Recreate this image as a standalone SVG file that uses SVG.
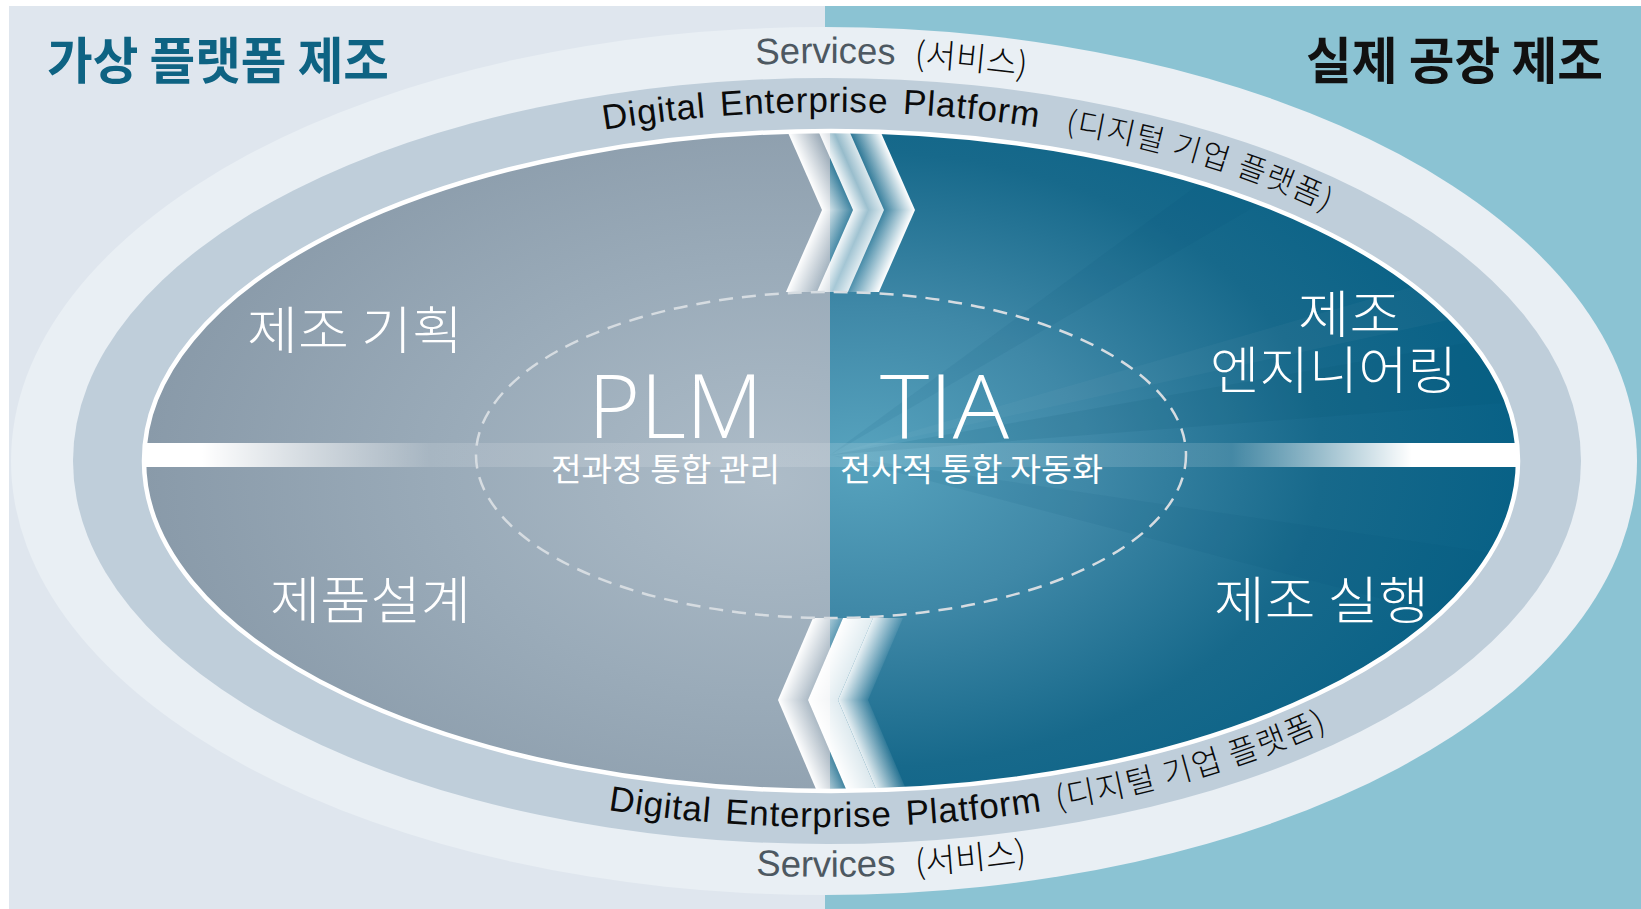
<svg xmlns="http://www.w3.org/2000/svg" xmlns:xlink="http://www.w3.org/1999/xlink" width="1641" height="909" viewBox="0 0 1641 909">
<style>
.ttl{font-family:"Noto Sans CJK KR","Noto Sans CJK SC",sans-serif;font-size:50px;font-weight:700}
.reg{font-family:"Noto Sans CJK KR","Noto Sans CJK SC",sans-serif;font-size:51px;font-weight:300;fill:#ffffff}
.sub{font-family:"Noto Sans CJK KR","Noto Sans CJK SC",sans-serif;font-size:32px;font-weight:400;fill:#ffffff}
.big{font-family:"Open Sans","Liberation Sans",sans-serif;font-size:88px;font-weight:300;fill:#ffffff}
.dep{font-family:"Liberation Sans",Arial,sans-serif;font-size:35px;fill:#0b0b0b;letter-spacing:0.8px;word-spacing:4px}
.depk{font-family:"Noto Sans CJK KR","Noto Sans CJK SC",sans-serif;font-weight:300;fill:#0b0b0b;letter-spacing:1.5px}
.svc{font-family:"Liberation Sans",Arial,sans-serif;font-size:36.5px;fill:#4d5861}
.svck{font-family:"Noto Sans CJK KR","Noto Sans CJK SC",sans-serif;font-size:33px;font-weight:300;fill:#0b0b0b}
</style>
<defs>
<clipPath id="innerClip"><ellipse cx="831" cy="461" rx="687" ry="330"/></clipPath>
<radialGradient id="leftGrad" gradientUnits="userSpaceOnUse" cx="770" cy="480" r="430" gradientTransform="translate(770 480) scale(1.5 1) translate(-770 -480)">
<stop offset="0" stop-color="#adbcc8"/><stop offset="0.5" stop-color="#9aabb9"/><stop offset="1" stop-color="#8899a8"/>
</radialGradient>
<radialGradient id="rightGrad" gradientUnits="userSpaceOnUse" cx="860" cy="460" r="440" gradientTransform="translate(860 460) scale(1.5 1) translate(-860 -460)">
<stop offset="0" stop-color="#57a3be"/><stop offset="0.35" stop-color="#3f88a7"/><stop offset="0.7" stop-color="#17698b"/><stop offset="1" stop-color="#086186"/>
</radialGradient>
<linearGradient id="barGrad" gradientUnits="userSpaceOnUse" x1="140" y1="0" x2="1522" y2="0">
<stop offset="0" stop-color="#fff" stop-opacity="1"/><stop offset="0.045" stop-color="#fff" stop-opacity="1"/>
<stop offset="0.21" stop-color="#fff" stop-opacity="0.14"/><stop offset="0.79" stop-color="#fff" stop-opacity="0.14"/>
<stop offset="0.92" stop-color="#fff" stop-opacity="1"/><stop offset="1" stop-color="#fff" stop-opacity="1"/>
</linearGradient>
<linearGradient id="gT0" x1="0" y1="0" x2="1" y2="0"><stop offset="0" stop-color="#fff" stop-opacity="1"/><stop offset="1" stop-color="#fff" stop-opacity="0.12"/></linearGradient>
<linearGradient id="gT1" x1="0" y1="0" x2="1" y2="0"><stop offset="0" stop-color="#fff" stop-opacity="0.95"/><stop offset="0.5" stop-color="#fff" stop-opacity="0.55"/><stop offset="1" stop-color="#fff" stop-opacity="0.85"/></linearGradient>
<linearGradient id="gT2" x1="0" y1="0" x2="1" y2="0"><stop offset="0" stop-color="#fff" stop-opacity="0.1"/><stop offset="1" stop-color="#fff" stop-opacity="1"/></linearGradient>
<linearGradient id="gB0" x1="0" y1="0" x2="1" y2="0"><stop offset="0" stop-color="#fff" stop-opacity="1"/><stop offset="1" stop-color="#fff" stop-opacity="0.2"/></linearGradient>
<linearGradient id="gB1" x1="0" y1="0" x2="1" y2="0"><stop offset="0" stop-color="#fff" stop-opacity="1"/><stop offset="1" stop-color="#fff" stop-opacity="0.85"/></linearGradient>
<linearGradient id="gB2" x1="0" y1="0" x2="1" y2="0"><stop offset="0" stop-color="#fff" stop-opacity="0.9"/><stop offset="1" stop-color="#fff" stop-opacity="0.08"/></linearGradient>
<path id="svcTop" d="M55,461 A771,398 0 0 1 1597,461"/>
<path id="svcBot" d="M34.5,461 A791.5,416 0 0 0 1617.5,461"/>
<path id="depTop" d="M118,461 A711,349 0 0 1 1540,461"/>
<path id="depBot" d="M96.5,461 A732.5,366 0 0 0 1561.5,461"/>
</defs>

<g id="background">
<rect x="0" y="0" width="1641" height="909" fill="#ffffff"/>
<rect x="9" y="6" width="817" height="903" fill="#dfe6ee"/>
<rect x="825" y="6" width="816" height="903" fill="#8bc3d3"/>
</g>

<g id="ring-services">
<ellipse cx="824" cy="461" rx="813" ry="434" fill="#e9eff4"/>
</g>
<g id="ring-platform">
<ellipse cx="827" cy="461" rx="754" ry="383" fill="#bfceda"/>
</g>

<g id="core" clip-path="url(#innerClip)">
<rect id="core-left" x="130" y="120" width="700" height="690" fill="url(#leftGrad)"/>
<rect id="core-right" x="830" y="120" width="700" height="690" fill="url(#rightGrad)"/>
<g id="rays">
<polygon points="830,455 1540,250 1540,300" fill="#ffffff" opacity="0.03"/>
<polygon points="830,455 1540,330 1540,400" fill="#00506e" opacity="0.1"/>
<polygon points="830,455 1540,560 1540,640" fill="#00506e" opacity="0.08"/>
<polygon points="830,455 1300,110 1420,110" fill="#00506e" opacity="0.08"/>
</g>
<rect id="divider" x="130" y="443" width="1400" height="24" fill="url(#barGrad)"/>
</g>

<g id="connectors" clip-path="url(#innerClip)">
<g id="chevrons-top">
<g transform="translate(822,210)"><rect x="0" y="-95" width="31" height="95" transform="skewX(23.75)" fill="url(#gT0)"/><rect x="0" y="0" width="31" height="82" transform="skewX(-23.75)" fill="url(#gT0)"/></g>
<g transform="translate(853,210)"><rect x="0" y="-95" width="31" height="95" transform="skewX(23.75)" fill="url(#gT1)"/><rect x="0" y="0" width="31" height="82" transform="skewX(-23.75)" fill="url(#gT1)"/></g>
<g transform="translate(884,210)"><rect x="0" y="-95" width="31" height="95" transform="skewX(23.75)" fill="url(#gT2)"/><rect x="0" y="0" width="31" height="82" transform="skewX(-23.75)" fill="url(#gT2)"/></g>
</g>
<g id="chevrons-bottom">
<g transform="translate(778,700)"><rect x="0" y="-82" width="30" height="82" transform="skewX(-23.1)" fill="url(#gB0)"/><rect x="0" y="0" width="30" height="100" transform="skewX(23.1)" fill="url(#gB0)"/></g>
<g transform="translate(808,700)"><rect x="0" y="-82" width="30" height="82" transform="skewX(-23.1)" fill="url(#gB1)"/><rect x="0" y="0" width="30" height="100" transform="skewX(23.1)" fill="url(#gB1)"/></g>
<g transform="translate(838,700)"><rect x="0" y="-82" width="30" height="82" transform="skewX(-23.1)" fill="url(#gB2)"/><rect x="0" y="0" width="30" height="100" transform="skewX(23.1)" fill="url(#gB2)"/></g>
</g>
</g>

<g id="core-outline">
<ellipse cx="831" cy="461" rx="687" ry="330" fill="none" stroke="#ffffff" stroke-width="4.5"/>
</g>
<g id="core-dashed">
<ellipse cx="831" cy="455" rx="355" ry="163" fill="none" stroke="#d6dce1" stroke-width="2.5" stroke-dasharray="14 9"/>
</g>

<g id="title-virtual"><text class="ttl" x="47" y="79" fill="#0e6383" textLength="342" lengthAdjust="spacingAndGlyphs">가상 플랫폼 제조</text></g>
<g id="title-real"><text class="ttl" x="1306" y="79" fill="#111111" textLength="297" lengthAdjust="spacingAndGlyphs">실제 공장 제조</text></g>

<g id="label-services-top">
<text class="svc"><textPath href="#svcTop" xlink:href="#svcTop" startOffset="871">Services</textPath></text>
<text class="svck"><textPath href="#svcTop" xlink:href="#svcTop" startOffset="1030">(서비스)</textPath></text>
</g>
<g id="label-platform-top">
<text class="dep"><textPath href="#depTop" xlink:href="#depTop" startOffset="631">Digital Enterprise Platform</textPath></text>
<text class="depk" font-size="30.5"><textPath href="#depTop" xlink:href="#depTop" startOffset="1094">(디지털 기업 플랫폼)</textPath></text>
</g>
<g id="label-platform-bottom">
<text class="dep"><textPath href="#depBot" xlink:href="#depBot" startOffset="665">Digital Enterprise Platform</textPath></text>
<text class="depk" font-size="31.5"><textPath href="#depBot" xlink:href="#depBot" startOffset="1116">(디지털 기업 플랫폼)</textPath></text>
</g>
<g id="label-services-bottom">
<text class="svc"><textPath href="#svcBot" xlink:href="#svcBot" startOffset="901">Services</textPath></text>
<text class="svck"><textPath href="#svcBot" xlink:href="#svcBot" startOffset="1061">(서비스)</textPath></text>
</g>

<g id="node-planning"><text class="reg" x="247" y="349" textLength="216" lengthAdjust="spacingAndGlyphs">제조 기획</text></g>
<g id="node-design"><text class="reg" x="270" y="619" textLength="201" lengthAdjust="spacingAndGlyphs">제품설계</text></g>
<g id="node-engineering">
<text class="reg" x="1298" y="333" textLength="103" lengthAdjust="spacingAndGlyphs">제조</text>
<text class="reg" x="1210" y="389" textLength="247" lengthAdjust="spacingAndGlyphs">엔지니어링</text>
</g>
<g id="node-execution"><text class="reg" x="1214" y="619" textLength="215" lengthAdjust="spacingAndGlyphs">제조 실행</text></g>

<g id="node-plm">
<text class="big" x="588" y="438" textLength="175" lengthAdjust="spacingAndGlyphs">PLM</text>
<text class="sub" x="551" y="481" textLength="229" lengthAdjust="spacingAndGlyphs">전과정 통합 관리</text>
</g>
<g id="node-tia">
<text class="big" x="880" y="438" textLength="129" lengthAdjust="spacingAndGlyphs">TIA</text>
<text class="sub" x="840" y="481" textLength="263" lengthAdjust="spacingAndGlyphs">전사적 통합 자동화</text>
</g>
</svg>
